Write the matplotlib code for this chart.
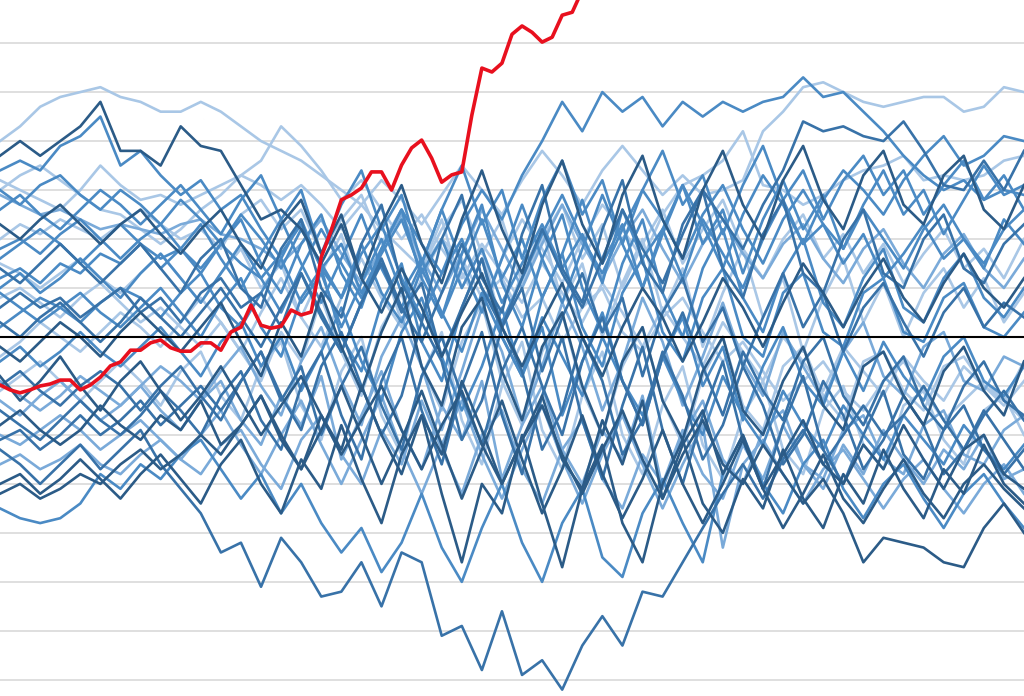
import numpy as np
import matplotlib
matplotlib.use("Agg")
import matplotlib.pyplot as plt

# ---- data (values in grid units; 0 = reference line) ----
grid_levels = [-7, -6, -5, -4, -3, -2, -1, 1, 2, 3, 4, 5, 6]
blue_step = 20
red_step = 10

red = [-0.98, -1.08, -1.14, -1.08, -1.00, -0.96, -0.88, -0.88, -1.08, -0.98,
       -0.82, -0.59, -0.51, -0.27, -0.27, -0.12, -0.06, -0.22, -0.29, -0.29,
       -0.12, -0.12, -0.27, 0.10, 0.20, 0.65, 0.24, 0.18, 0.22, 0.55,
       0.45, 0.51, 1.63, 2.18, 2.80, 2.90, 3.04, 3.37, 3.37, 3.00,
       3.51, 3.86, 4.02, 3.65, 3.16, 3.31, 3.37, 4.53, 5.49, 5.41,
       5.59, 6.18, 6.35, 6.22, 6.02, 6.12, 6.57, 6.63, 7.08]

b01 = [4.0,4.3,4.7,4.9,5.0,5.1,4.9,4.8,4.6,4.6,4.8,4.6,4.3,4.0,3.8,3.6,3.3,3.0,2.7,2.2,1.8,1.4,2.0,1.6,0.8,1.2,0.4,0.8,-0.1,0.6,1.0,0.1,-0.3,0.4,0.8,0.1,-0.5,-0.1,-0.7,-1.3,-0.9,-0.5,-1.1,-1.5,-0.9,-0.5,-1.1,-1.7,-1.3,-0.9,-1.3,-1.7]
b02 = [3.7,4.0,3.7,4.0,4.3,4.8,3.8,3.8,3.5,4.3,3.9,3.8,3.1,2.4,2.6,2.2,1.5,2.3,1.2,0.5,1.4,0.6,-0.4,0.5,1.3,0.2,-0.6,0.3,1.1,0.0,-0.8,0.2,1.0,0.4,-0.5,0.3,1.2,0.6,-0.2,0.7,1.5,0.9,0.2,1.0,1.6,0.8,0.3,1.1,1.7,1.0,0.6,1.2]
b03 = [3.4,3.6,3.4,3.9,4.1,4.5,3.5,3.8,3.3,2.9,3.2,2.6,2.9,2.2,1.6,2.4,1.4,0.8,1.7,2.3,1.2,0.4,1.3,2.0,1.0,0.3,1.2,2.1,2.9,2.0,1.3,2.2,3.0,2.4,1.6,2.5,3.1,2.2,1.5,2.4,3.0,2.3,1.8,2.6,2.0,1.4,2.2,2.7,2.0,1.5,2.2,2.6]
b04 = [-2.3,-2.6,-3.0,-2.6,-2.2,-2.7,-2.3,-1.9,-2.6,-3.1,-3.6,-4.4,-4.2,-5.1,-4.1,-4.6,-5.3,-5.2,-4.6,-5.5,-4.4,-4.6,-6.1,-5.9,-6.8,-5.6,-6.9,-6.6,-7.2,-6.3,-5.7,-6.3,-5.2,-5.3,-4.6,-3.9,-3.2,-2.6,-3.3,-2.5,-1.9,-2.6,-2.0,-1.4,-2.0,-1.6,-1.0,-1.7,-2.3,-1.6,-1.1,-1.7]
b05 = [-3.5,-3.7,-3.8,-3.7,-3.4,-2.8,-3.1,-2.6,-2.9,-2.4,-2.1,-2.7,-3.3,-2.8,-3.6,-3.0,-3.8,-4.4,-3.9,-4.8,-4.2,-3.2,-4.3,-5.0,-3.9,-3.0,-4.2,-5.0,-3.8,-3.1,-4.5,-4.9,-3.6,-2.9,-3.8,-4.6,-2.8,-2.0,-3.0,-3.6,-2.6,-2.1,-3.1,-3.7,-3.0,-2.6,-3.3,-3.9,-3.2,-2.8,-3.4,-3.9]
b06 = [-0.8,-1.3,-0.9,-0.4,-1.0,-1.5,-0.9,-0.5,-1.1,-1.7,-1.2,-0.6,-1.3,-2.0,-1.4,-0.8,-1.6,-2.4,-1.7,-1.0,-1.9,-2.7,-1.8,-1.1,-2.2,-3.0,-2.1,-1.4,-2.4,-3.2,-2.3,-1.5,-2.5,-3.3,-2.4,-1.7,-2.6,-3.0,-2.2,-2.8,-3.4,-2.9,-3.6,-4.6,-4.1,-4.2,-4.3,-4.6,-4.7,-3.9,-3.4,-4.0]
b07 = [1.2,1.4,1.1,1.5,1.3,1.7,1.5,1.9,1.6,1.8,1.4,1.9,1.5,1.2,1.7,2.3,1.4,1.9,0.9,1.7,2.4,1.3,2.0,1.0,1.8,0.7,1.5,2.3,1.4,2.1,1.1,2.6,1.6,2.2,1.2,2.4,1.7,1.0,2.0,2.8,1.9,2.3,1.5,2.1,1.2,1.7,2.3,1.6,2.0,1.4,2.4,1.9]
b08 = [0.6,0.9,0.6,0.8,0.4,0.7,1.0,0.5,0.8,0.3,0.9,1.2,0.6,0.9,0.2,1.3,0.4,-0.3,0.7,1.5,0.5,1.1,-0.4,0.6,1.6,0.2,1.0,-0.7,0.4,1.3,0.1,0.8,-0.8,0.5,1.2,-0.1,0.6,-0.6,0.4,1.3,0.2,0.9,-0.3,0.6,1.1,0.3,-0.4,0.5,1.0,0.2,0.7,0.4]
b09 = [2.0,2.3,2.1,2.4,2.2,2.0,2.3,2.6,2.3,2.0,2.2,1.8,2.5,2.8,2.2,2.6,1.7,2.4,2.9,1.9,2.6,1.4,2.2,2.8,1.7,2.4,1.1,2.0,2.7,1.6,2.3,1.0,1.9,2.6,1.5,2.2,2.8,1.8,1.2,2.0,2.5,1.6,2.1,1.3,1.9,1.1,1.7,2.2,1.4,1.8,1.2,2.0]
b10 = [-0.5,-0.2,-0.6,-0.3,0.1,-0.3,-0.6,-0.2,0.2,-0.3,-0.8,-0.1,0.3,-0.6,0.0,-1.1,-0.3,0.6,-0.5,-1.3,0.1,0.8,-0.4,-1.5,-0.6,0.6,-0.8,0.2,-1.6,-0.5,0.5,-0.9,-1.8,-0.4,0.4,-1.0,-0.2,-1.7,-0.6,0.2,-0.9,-1.4,-0.3,-1.1,-0.1,-0.8,-1.3,-0.4,0.0,-0.9,-1.2,-0.6]
b11 = [-1.8,-1.5,-1.9,-2.2,-1.9,-1.4,-1.8,-2.1,-1.6,-1.9,-1.3,-2.2,-1.8,-1.2,-2.1,-2.7,-1.6,-2.3,-1.0,-2.0,-2.8,-1.6,-2.4,-0.9,-1.9,-3.0,-2.1,-1.2,-2.5,-3.1,-1.7,-2.6,-1.3,-3.3,-2.2,-1.5,-2.8,-2.0,-3.1,-2.4,-1.7,-2.6,-3.0,-2.2,-2.7,-1.8,-2.5,-3.1,-2.3,-2.0,-2.8,-3.1]
b12 = [-2.6,-2.4,-2.7,-2.5,-2.2,-2.6,-2.8,-2.4,-2.1,-2.5,-2.8,-2.2,-1.9,-2.6,-3.1,-2.1,-1.6,-2.4,-3.0,-1.9,-2.6,-1.3,-2.3,-3.2,-2.0,-1.5,-2.7,-3.4,-2.3,-1.7,-2.9,-3.5,-2.4,-3.0,-1.9,-2.8,-3.3,-2.2,-2.9,-1.8,-2.6,-3.1,-2.2,-2.8,-1.9,-2.5,-3.0,-2.3,-2.7,-2.0,-2.9,-2.7]
b13 = [0.2,0.5,0.8,0.6,0.3,0.7,1.0,0.8,0.4,0.9,1.3,0.6,0.2,0.9,1.6,0.7,1.3,0.2,1.1,2.0,0.9,1.6,0.4,1.4,2.4,1.2,2.0,0.8,1.7,2.8,1.5,2.3,1.0,2.2,3.1,1.9,2.6,1.3,2.4,3.2,2.2,2.9,1.8,2.7,3.4,2.5,3.0,2.1,2.8,3.5,2.9,3.1]
b14 = [-1.0,-0.7,-1.1,-1.4,-1.0,-0.7,-1.0,-1.5,-1.0,-0.6,-1.2,-1.7,-0.9,-0.3,-1.3,-0.6,-2.0,-1.0,-0.2,-1.4,-2.3,-0.8,0.0,-1.2,-2.2,-0.7,0.2,-1.0,-2.0,-0.5,0.4,-0.9,-1.8,-0.4,0.5,-0.6,-1.6,-0.3,-1.1,-1.7,-0.5,0.0,-1.2,-1.8,-0.9,-0.4,-1.4,-1.9,-1.0,-0.5,-1.3,-1.6]
b15 = [1.5,1.3,1.0,1.3,1.6,1.2,0.9,1.3,1.7,1.2,0.7,1.3,1.8,1.0,1.5,0.4,1.3,2.1,0.8,1.6,0.3,1.4,2.4,1.0,1.8,0.2,1.3,2.2,0.7,1.5,0.0,1.1,2.0,0.5,1.4,-0.2,0.9,1.8,0.4,1.2,-0.3,0.8,1.6,0.3,1.1,0.0,0.9,1.4,0.6,1.2,0.3,0.9]
b16 = [2.6,2.9,2.5,2.2,2.6,3.0,2.7,2.3,2.7,3.1,2.6,2.1,2.8,3.3,2.4,3.0,1.7,2.7,3.4,2.2,2.9,1.5,2.6,3.5,2.3,3.0,1.6,2.8,3.6,2.5,3.2,1.9,3.0,3.8,2.7,3.3,2.1,3.1,3.9,2.8,3.4,2.4,3.2,3.7,2.9,3.4,2.5,3.1,3.6,2.8,3.3,2.6]
b17 = [-0.2,-0.5,-0.1,0.3,0.0,-0.4,0.1,0.5,0.1,-0.3,0.2,0.7,-0.1,-0.8,0.3,-0.4,0.9,-0.2,-1.1,0.1,1.0,-0.6,-1.4,0.2,0.8,-0.7,-1.7,-0.2,0.5,-1.0,-2.0,-0.5,0.2,-1.3,-2.1,-0.7,0.0,-1.5,-2.0,-0.9,-0.2,-1.4,-1.9,-0.6,-0.3,-1.2,-1.8,-0.7,-0.2,-1.1,-1.6,-0.5]
b18 = [-1.3,-1.6,-1.2,-0.9,-1.3,-1.7,-1.4,-1.0,-1.5,-1.9,-1.3,-0.9,-1.7,-2.2,-1.2,-1.8,-0.8,-2.5,-1.6,-0.7,-1.9,-2.7,-1.4,-2.1,-0.9,-2.9,-1.8,-1.0,-2.3,-3.0,-1.9,-2.5,-1.2,-3.1,-2.0,-1.3,-2.5,-3.0,-1.9,-1.5,-2.6,-2.9,-1.9,-1.6,-2.5,-2.8,-1.8,-1.5,-2.4,-2.6,-1.9,-1.6]
b19 = [3.0,2.7,3.1,3.3,2.9,2.6,3.0,2.7,2.3,2.8,2.4,1.9,2.5,2.0,1.4,2.2,1.5,0.8,1.9,0.9,0.3,1.4,0.5,-0.3,0.9,0.0,-0.8,0.4,-0.4,-1.2,0.0,-0.9,-1.6,-0.4,-1.3,-2.0,-0.8,-1.6,-2.2,-1.1,-1.8,-2.3,-1.4,-2.0,-2.5,-1.6,-2.1,-2.6,-1.8,-2.3,-2.7,-2.2]
b20 = [-3.0,-2.8,-3.2,-2.9,-2.5,-2.9,-3.3,-2.8,-2.4,-2.9,-3.4,-2.6,-2.1,-3.0,-3.6,-2.5,-3.1,-1.8,-2.9,-3.8,-2.4,-1.6,-3.2,-4.6,-3.0,-3.6,-2.0,-3.4,-4.7,-3.1,-2.2,-3.8,-4.6,-3.0,-2.1,-3.4,-4.0,-2.9,-3.5,-2.3,-3.3,-3.9,-2.8,-3.4,-2.3,-3.1,-3.7,-2.7,-3.2,-2.2,-3.0,-3.4]
b21 = [0.8,1.0,0.7,0.4,0.8,1.1,0.7,0.3,0.6,0.2,-0.2,0.3,-0.3,-0.9,0.1,-0.5,0.8,-0.3,-1.2,0.2,0.9,-0.6,-1.5,-0.1,0.7,-0.9,-1.8,-0.3,0.5,-1.1,-2.0,-0.6,0.2,-1.3,-2.2,-0.8,0.0,-1.4,-1.9,-0.6,-0.2,-1.2,-1.7,-0.5,-0.3,-1.1,-1.5,-0.6,-0.4,-1.0,-1.3,-0.5]
b22 = [-2.1,-1.9,-2.3,-2.0,-1.6,-2.0,-1.7,-1.3,-1.8,-1.4,-1.0,-1.5,-0.9,-0.3,-1.2,-1.9,-0.6,0.1,-1.0,-2.0,-1.2,0.3,-0.5,-2.1,-1.3,0.2,-0.7,-2.3,-1.5,0.0,-0.9,-2.4,-1.7,-0.3,-1.2,-2.5,-1.8,-0.6,-1.4,-2.6,-2.0,-0.9,-1.6,-2.7,-2.1,-1.2,-1.8,-2.8,-2.3,-1.5,-2.1,-2.7]
b23 = [2.3,2.0,2.4,2.7,2.3,1.9,2.3,2.6,2.1,1.7,2.2,2.6,1.9,1.4,2.3,2.8,1.7,2.5,1.2,2.3,3.1,1.9,1.1,2.4,3.4,2.2,1.3,2.7,3.6,2.3,1.5,2.9,3.7,2.4,1.6,3.0,3.8,2.7,2.0,3.2,3.9,2.8,2.2,3.3,3.8,2.7,2.3,3.3,3.7,2.6,2.2,3.1]
b24 = [-0.9,-1.2,-1.5,-1.2,-0.8,-1.1,-1.4,-1.0,-0.6,-0.9,-1.3,-0.7,-0.2,-1.0,-1.6,-0.5,0.2,-0.9,-1.8,-0.4,0.4,-0.6,-1.9,-0.7,0.6,-0.3,-1.7,-0.6,0.7,-0.2,-1.5,-0.5,0.8,-0.1,-1.4,-0.4,0.7,-0.5,-1.2,0.1,-0.6,-1.3,-0.3,0.3,-0.8,-1.2,-0.2,0.1,-0.9,-1.1,-0.4,-0.6]
b25 = [1.8,2.0,1.7,2.1,2.4,2.0,1.6,2.0,2.3,1.8,1.3,1.9,2.4,1.5,0.9,1.9,2.5,1.3,0.6,1.8,2.6,1.2,0.4,1.7,2.7,1.1,0.2,1.6,2.5,1.0,0.1,1.5,2.4,0.9,0.0,1.4,2.2,0.8,0.1,1.3,2.0,0.7,0.2,1.2,1.8,0.6,0.3,1.2,1.7,0.8,0.4,1.0]
b26 = [-1.5,-1.8,-2.1,-1.7,-1.3,-1.7,-2.0,-1.6,-1.1,-1.5,-2.0,-1.2,-0.7,-1.7,-2.3,-1.0,-0.3,-1.6,-2.5,-0.9,0.0,-1.5,-2.6,-1.0,0.1,-1.6,-2.8,-1.2,0.0,-1.7,-2.9,-1.4,-0.2,-1.9,-3.0,-1.6,-0.5,-2.1,-3.1,-1.8,-0.8,-2.3,-3.0,-2.0,-1.1,-2.4,-2.9,-1.9,-1.4,-2.3,-2.8,-2.3]
b27 = [3.0,3.3,3.5,3.2,2.9,2.6,2.5,2.2,1.9,2.2,2.6,2.9,3.3,3.1,2.8,3.1,2.7,2.2,2.7,3.2,2.8,2.3,2.9,3.5,3.0,2.5,3.2,3.8,3.3,2.7,3.4,3.9,3.4,2.9,3.3,2.9,3.0,3.2,4.2,4.6,5.1,5.2,5.0,4.8,4.7,4.8,4.9,4.9,4.6,4.7,5.1,5.0]
b28 = [1.0,1.3,0.9,1.2,1.6,1.2,0.8,1.3,1.7,1.2,0.7,1.3,1.9,1.2,0.5,1.4,2.2,1.5,0.8,1.8,2.6,1.9,1.3,2.3,3.0,2.4,3.3,4.0,4.8,4.2,5.0,4.6,4.9,4.3,4.8,4.5,4.8,4.6,4.8,4.9,5.3,4.9,5.0,4.6,4.2,3.7,3.3,3.0,3.2,2.8,3.0,2.9]
b29 = [0.3,0.0,0.4,0.7,0.3,-0.1,0.3,0.8,0.4,0.0,0.5,1.0,0.4,-0.2,0.6,1.3,0.5,-0.3,0.7,1.6,0.6,-0.1,0.9,1.9,1.0,0.2,1.2,2.2,1.3,0.6,1.6,2.6,1.8,1.1,2.1,3.0,2.4,1.8,2.7,3.4,4.4,4.2,4.3,4.1,4.0,4.4,3.8,3.1,3.0,3.6,3.0,3.8]
b30 = [-0.4,-0.1,0.3,0.0,-0.3,0.1,0.5,0.2,-0.2,0.3,0.8,0.3,-0.3,0.5,1.2,0.4,-0.2,0.8,1.6,0.8,0.2,1.2,2.0,1.3,0.6,1.6,2.4,1.8,1.1,2.0,2.7,2.2,1.6,2.5,3.1,3.3,3.6,4.2,3.1,3.0,2.7,2.9,3.2,3.4,3.5,3.7,3.2,3.3,3.2,3.3,3.6,3.7]
b31 = [1.6,1.9,2.2,1.9,1.5,1.9,2.3,1.9,1.4,1.8,2.3,1.6,1.0,1.7,2.4,1.5,0.7,1.6,2.5,1.4,0.6,1.5,2.6,1.5,0.5,1.6,2.7,1.6,0.7,1.8,2.9,1.9,1.0,2.1,3.1,2.3,1.4,2.5,3.3,2.7,1.9,2.8,3.4,3.0,2.5,3.2,3.7,4.1,3.5,3.7,4.1,4.0]
b32 = [3.2,3.0,2.8,2.6,3.0,3.5,3.1,2.8,2.9,2.7,2.9,3.1,3.3,3.6,4.3,3.9,3.4,2.8,3.2,2.6,2.0,2.5,1.8,1.2,1.9,1.3,0.7,1.5,0.9,0.3,1.1,0.5,-0.2,0.6,0.0,-0.6,0.3,-0.3,-0.9,0.0,-0.5,-1.1,-0.2,-0.7,-1.2,-0.4,-0.9,-1.3,-0.6,-1.0,-1.4,-0.9]
b33 = [2.9,2.7,2.5,2.6,2.4,2.2,2.3,2.2,2.1,2.3,2.4,2.1,2.0,1.8,1.5,1.9,2.4,1.7,1.1,1.8,2.5,1.6,0.9,1.7,2.6,1.8,1.0,1.9,2.7,1.9,1.2,2.0,2.6,1.8,1.1,1.9,2.4,1.7,1.2,1.9,2.3,1.6,1.1,1.8,2.2,1.5,1.0,1.7,2.1,1.4,1.0,1.6]
b34 = [-3.2,-3.0,-3.3,-3.1,-2.8,-3.0,-2.6,-2.3,-2.7,-2.4,-2.0,-2.4,-1.8,-1.2,-2.0,-2.7,-1.9,-1.0,-2.0,-3.0,-2.1,-1.1,-2.2,-3.3,-2.3,-1.3,-2.5,-3.6,-2.7,-1.6,-2.8,-3.7,-2.9,-1.9,-3.0,-3.8,-3.0,-2.1,-3.1,-3.9,-3.2,-2.4,-3.3,-3.8,-3.1,-2.5,-3.2,-3.7,-3.0,-2.6,-3.1,-3.5]
b35 = [-2.0,-2.2,-1.9,-1.6,-1.9,-2.3,-2.0,-1.7,-2.1,-2.5,-2.0,-1.5,-2.2,-2.8,-2.0,-1.3,-2.2,-3.0,-2.1,-1.2,-2.3,-3.2,-2.2,-1.3,-2.4,-3.3,-2.3,-1.4,-2.5,-3.4,-2.4,-1.6,-2.6,-3.5,-2.6,-1.8,-4.3,-2.6,-2.1,-2.8,-3.4,-2.7,-2.3,-2.9,-3.5,-2.9,-2.5,-3.1,-3.6,-3.0,-2.6,-3.2]
b36 = [0.9,0.6,0.3,0.6,0.9,0.5,0.2,0.6,1.0,0.5,0.0,0.7,1.2,0.2,-0.4,0.8,1.4,0.0,-0.7,0.7,1.5,-0.1,-0.9,0.6,1.6,0.0,-0.8,0.8,1.7,0.2,-0.6,0.9,1.6,0.1,-0.5,0.8,1.4,0.0,-0.4,0.9,1.3,0.1,-0.2,0.9,1.2,0.1,-0.1,0.8,1.1,0.2,0.0,0.5]
b37 = [1.4,1.1,1.5,1.9,1.5,1.1,1.5,1.9,1.4,0.9,1.6,2.0,1.0,0.6,1.8,2.4,1.0,0.4,1.9,2.7,1.1,0.3,2.0,2.9,1.2,0.5,2.1,3.1,1.4,0.7,2.2,3.2,1.5,0.9,2.3,3.0,1.4,0.8,2.1,2.8,1.3,0.9,2.0,2.6,1.3,1.0,2.0,2.5,1.4,1.1,1.9,2.3]
b38 = [-1.1,-0.8,-0.5,-0.9,-1.3,-0.9,-0.5,-0.9,-1.4,-0.7,-0.3,-1.2,-1.7,-0.6,-0.1,-1.4,-2.1,-0.7,0.0,-1.6,-2.4,-0.8,0.1,-1.7,-2.6,-1.0,-0.1,-1.9,-2.7,-1.2,-0.3,-2.0,-2.8,-1.4,-0.6,-2.2,-2.9,-1.6,-0.9,-2.3,-2.8,-1.5,-1.0,-2.2,-2.7,-1.4,-1.1,-2.1,-2.6,-1.5,-1.2,-2.0]

blue_series = [b01, b02, b03, b04, b05, b06, b07, b08, b09, b10, b11, b12, b13,
               b14, b15, b16, b17, b18, b19, b20, b21, b22, b23, b24, b25, b26,
               b27, b28, b29, b30, b31, b32, b33, b34, b35, b36, b37, b38]

# shade index per series (0 = darkest ... 4 = lightest)
shade_idx = [4, 0, 2, 1, 2, 0, 2, 1, 4, 2, 0, 3, 2, 1, 4, 2, 0, 3, 2, 0,
             4, 1, 0, 3, 2, 1, 4, 2, 1, 4, 2, 4, 3, 0, 3, 2, 1, 4]
shades = ["#2b5b87", "#3872a8", "#4a8ac4", "#7aaad9", "#a9c7e6"]

# ---- drawing ----
fig = plt.figure(figsize=(10.24, 6.96), dpi=100)
ax = fig.add_axes([0, 0, 1, 1])

for g in grid_levels:
    ax.axhline(g, color="#dcdcdc", lw=1.3, zorder=0)

order = sorted(range(len(blue_series)), key=lambda i: -shade_idx[i])
for i in order:
    s = blue_series[i]
    x = np.arange(len(s)) * blue_step
    ax.plot(x, s, color=shades[shade_idx[i]], lw=1.9, zorder=2,
            solid_joinstyle="round")

ax.axhline(0, color="black", lw=1.5, zorder=3)

xr = np.arange(len(red)) * red_step
ax.plot(xr, red, color="#e8101e", lw=2.6, zorder=4, solid_joinstyle="round")

ax.set_xlim(0, 1020)
ax.set_ylim(-7.33, 6.88)
ax.axis("off")

fig.savefig("out.png", dpi=100, facecolor="white")
